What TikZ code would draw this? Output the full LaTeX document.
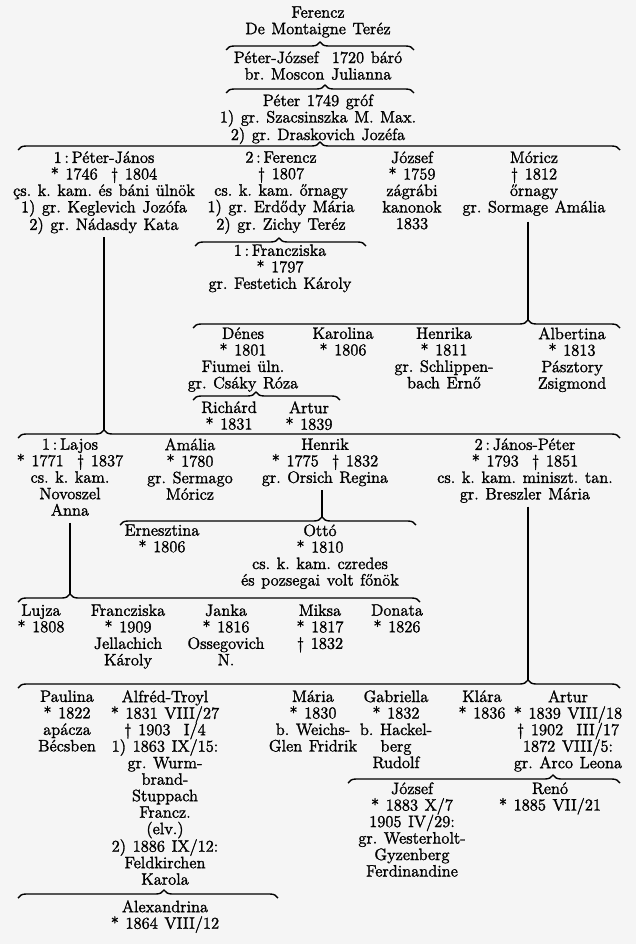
\documentclass[tikz,border=0pt]{standalone}
\usepackage{fontspec}
\setmainfont{lmroman12-regular}[Extension=.otf, FakeBold=1.6]
\usetikzlibrary{decorations.pathreplacing}
\newcommand\famb[5]{%
  \pgfmathsetmacro\asp{(#3-#1)/(#2-#1)}%
  \draw[brc, decoration={aspect=\asp}] (#1,#4+4) -- (#2,#4+4);
  \coordinate (#5) at (#3,#4-4);
}
\newcommand\genfont{\fontsize{16.5}{16.5}\selectfont\frenchspacing\spaceskip=0.4em plus 0.1em\relax}
\newcommand\nc{\,:\,}
\begin{document}
\begin{tikzpicture}[x=1pt,y=-1pt,
  p/.style={anchor=north, align=center, inner sep=0pt,
    font=\genfont, yshift=6.8pt, execute at begin node=\strut},
  brc/.style={line width=1.4pt, decorate, decoration={brace, amplitude=8pt}},
  vl/.style={line width=1.7pt}]
\fill[black!4] (0,0) rectangle (636,944);
\useasboundingbox (0,0) rectangle (636,944);

\node[p] (n0) at (318,13) {Ferencz\\De Montaigne Teréz};
\famb{226}{414}{320}{46}{c1}
\node[p] (n1) at (318,58) {Péter-József\ \ 1720 báró\\br. Moscon Julianna};
\famb{226}{414}{325}{89}{c2}
\node[p] (n2) at (318,101) {Péter 1749 gróf\\1) gr. Szacsinszka M. Max.\\2) gr. Draskovich Jozéfa};
\famb{18}{620}{320}{146}{c3}

\node[p] (pj) at (104,158) {1\nc Péter-János\\* 1746 \ † 1804\\çs. k. kam. és báni ülnök\\1) gr. Keglevich Jozófa\\2) gr. Nádasdy Kata};
\node[p] (fe) at (281,158) {2\nc Ferencz\\† 1807\\cs. k. kam. őrnagy\\1) gr. Erdődy Mária\\2) gr. Zichy Teréz};
\node[p] (jo) at (412,158) {József\\* 1759\\zágrábi\\kanonok\\1833};
\node[p] (mo) at (534,158) {Móricz\\† 1812\\őrnagy\\gr. Sormage Amália};

\famb{195}{366}{279}{242}{cf}
\node[p] (fr) at (280,251) {1\nc Francziska\\* 1797\\gr. Festetich Károly};

\famb{193}{620}{528}{324}{c4}
\draw[vl] ([yshift=-4pt]mo.south -| c4) -- (c4);
\node[p] (de) at (243,334) {Dénes\\* 1801\\Fiumei üln.\\gr. Csáky Róza};
\node[p] (ka) at (343,334) {Karolina\\* 1806};
\node[p] (he) at (444,334) {Henrika\\* 1811\\gr. Schlippen-\\bach Ernő};
\node[p] (al) at (572,334) {Albertina\\* 1813\\Pásztory\\Zsigmond};

\famb{193}{340}{256}{396}{cd}
\node[p] (ri) at (229,408) {Richárd\\* 1831};
\node[p] (ar) at (309,408) {Artur\\* 1839};

\famb{18}{620}{104}{434}{c5}
\draw[vl] ([yshift=-2pt]pj.south -| c5) -- (c5);
\node[p] (la) at (70,445) {1\nc Lajos\\* 1771 \ † 1837\\cs. k. kam.\\Novoszel\\Anna};
\node[p] (am) at (190,445) {Amália\\* 1780\\gr. Sermago\\Móricz};
\node[p] (hk) at (325,445) {Henrik\\* 1775 \ † 1832\\gr. Orsich Regina};
\node[p] (jp) at (525,445) {2\nc János-Péter\\* 1793 \ † 1851\\cs. k. kam. miniszt. tan.\\gr. Breszler Mária};

\famb{120}{416}{322}{521}{c6}
\draw[vl] ([yshift=-2pt]hk.south -| c6) -- (c6);
\node[p] (er) at (162,531) {Ernesztina\\* 1806};
\node[p] (ot) at (320,531) {Ottó\\* 1810\\cs. k. kam. czredes\\és pozsegai volt főnök};

\famb{18}{420}{70}{598}{c7}
\draw[vl] ([yshift=-2pt]la.south -| c7) -- (c7);
\node[p] (lu) at (41,611) {Lujza\\* 1808};
\node[p] (fz) at (128,611) {Francziska\\* 1909\\Jellachich\\Károly};
\node[p] (ja) at (226,611) {Janka\\* 1816\\Ossegovich\\N.};
\node[p] (mi) at (320,611) {Miksa\\* 1817\\† 1832};
\node[p] (do) at (397,611) {Donata\\* 1826};

\famb{18}{620}{528}{684}{c8}
\draw[vl] ([yshift=-2pt]jp.south -| c8) -- (c8);
\node[p] (pa) at (67,697) {Paulina\\* 1822\\apácza\\Bécsben};
\node[p] (af) at (165,697) {Alfréd-Troyl\\* 1831 VIII/27\\† 1903 \ I/4\\1) 1863 IX/15:\\gr. Wurm-\\brand-\\Stuppach\\Francz.\\(elv.)\\2) 1886 IX/12:\\Feldkirchen\\Karola};
\node[p] (ma) at (313,697) {Mária\\* 1830\\b. Weichs-\\Glen Fridrik};
\node[p] (ga) at (396,697) {Gabriella\\* 1832\\b. Hackel-\\berg\\Rudolf};
\node[p] (kl) at (482,697) {Klára\\* 1836};
\node[p] (at) at (568,697) {Artur\\* 1839 VIII/18\\† 1902 \ III/17\\1872 VIII/5:\\gr. Arco Leona};

\famb{348}{620}{553}{779}{c9}
\node[p] (js) at (412,789) {József\\* 1883 X/7\\1905 IV/29:\\gr. Westerholt-\\Gyzenberg\\Ferdinandine};
\node[p] (re) at (550,789) {Renó\\* 1885 VII/21};

\famb{18}{278}{164}{894}{c10}
\node[p] (ax) at (165,907) {Alexandrina\\* 1864 VIII/12};
\end{tikzpicture}
\end{document}
